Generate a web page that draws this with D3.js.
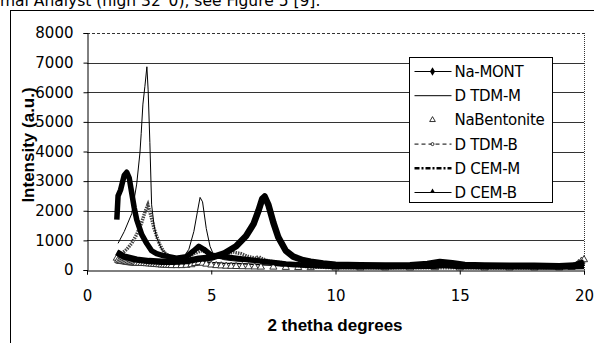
<!DOCTYPE html>
<html>
<head>
<meta charset="utf-8">
<script src="https://cdn.jsdelivr.net/npm/d3@7"></script>
<style>
body{margin:0;background:#fff;}
svg{display:block;font-family:"Liberation Sans",Arial,sans-serif;}
</style>
</head>
<body>
<svg width="594" height="343"></svg>
<script>
// values: [2 theta, intensity]
var naMont = [[1.2,600],[1.5,450],[2,350],[2.5,300],[3,280],[3.5,280],[4,300],[4.5,380],[5,420],[5.5,550],[6,800],[6.4,1150],[6.7,1550],[6.9,2000],[7.05,2400],[7.15,2480],[7.3,2200],[7.5,1600],[7.7,1100],[8,650],[8.3,450],[8.7,330],[9,280],[9.5,220],[10,180],[11,160],[12,150],[13,160],[13.7,200],[14.2,270],[14.7,230],[15.2,170],[16,150],[17,140],[18,140],[19,130],[19.6,150],[20,250]];
var dtdmM = [[1.25,900],[1.5,1300],[1.8,1900],[2.0,2900],[2.13,3950],[2.18,4600],[2.25,5600],[2.33,6200],[2.41,6860],[2.46,6080],[2.53,4300],[2.6,2200],[2.7,1500],[2.8,1100],[3.0,700],[3.3,450],[3.6,350],[3.9,450],[4.1,700],[4.3,1300],[4.45,2000],[4.55,2450],[4.65,2300],[4.8,1400],[4.95,800],[5.1,500],[5.5,350],[6,300],[7,250],[8,180],[9,150],[10,130],[12,120],[14,130],[16,110],[18,100],[20,110]];
var naBentonite = [[1.2,400],[1.25,330],[1.3,300],[1.35,295],[1.4,290],[1.45,285],[1.5,280],[1.55,275],[1.6,270],[1.65,260],[1.7,250],[1.75,248],[1.8,245],[1.85,242],[1.9,240],[1.95,235],[2.0,230],[2.1,228],[2.2,224],[2.3,220],[2.4,214],[2.5,208],[2.6,200],[2.7,192],[2.8,185],[2.9,178],[3.0,170],[3.1,165],[3.2,160],[3.3,155],[3.4,150],[3.6,150],[3.8,150],[4.0,160],[4.2,180],[4.35,220],[4.5,250],[4.65,230],[4.8,200],[5.0,170],[5.2,150],[5.4,140],[5.6,130],[5.8,125],[6,120],[6.25,115],[6.5,110],[6.75,105],[7,100],[7.5,100],[8,90],[8.5,85],[9,80],[10,70],[11,70],[12,70],[13,70],[14,80],[15,70],[16,70],[17,70],[18,70],[19,70],[19.5,90],[19.7,150],[19.8,200],[19.9,300],[20,350]];
var dtdmB = [[1.2,600],[1.4,550],[1.6,700],[1.8,900],[2.0,1200],[2.2,1600],[2.35,2000],[2.45,2200],[2.55,1900],[2.7,1400],[2.9,900],[3.1,600],[3.4,400],[3.7,350],[4.0,400],[4.3,550],[4.6,650],[4.8,600],[5.0,450],[5.3,450],[5.6,550],[5.9,600],[6.2,550],[6.5,450],[6.8,400],[6.9,450],[7.0,400],[7.3,300],[7.8,250],[8.5,150],[9,100],[10,80],[12,70],[14,80],[16,70],[18,70],[19.6,100],[19.8,300],[20,250]];
var dcemM = [[1.2,1700],[1.25,2500],[1.35,2700],[1.5,3200],[1.6,3300],[1.7,3100],[1.8,2600],[1.9,2100],[2.0,1700],[2.2,1200],[2.4,900],[2.6,650],[2.8,550],[3.0,500],[3.3,450],[3.6,400],[4.0,450],[4.3,650],[4.5,800],[4.7,700],[5.0,500],[5.5,450],[6.0,400],[6.5,350],[7,300],[7.5,250],[8,200],[9,150],[10,120],[12,110],[14,130],[14.3,160],[15,120],[17,110],[19,100],[20,120]];
var dcemB = [[1.2,350],[1.5,280],[2,250],[2.5,230],[3,200],[3.5,180],[4,220],[4.5,300],[5,250],[5.5,230],[6,220],[6.5,200],[7,180],[7.5,160],[8,130],[9,100],[10,90],[12,80],[14,90],[16,80],[18,80],[20,100]];

var legendNames = ["Na-MONT","D TDM-M","NaBentonite","D TDM-B","D CEM-M","D CEM-B"];
var xTicks = [0,5,10,15,20];
var yTicks = [0,1000,2000,3000,4000,5000,6000,7000,8000];

var svg = d3.select("svg");
var pLeft = 87, pRight = 584, pTop = 33, pBottom = 270;

var x = d3.scaleLinear().domain([0,20]).range([pLeft,pRight]);
var y = d3.scaleLinear().domain([0,8000]).range([pBottom,pTop]);

// caption text of the page, cut at the top
svg.append("text")
	.attr("x", 0).attr("y", 6)
	.style("font-family", "'DejaVu Sans',sans-serif")
	.style("font-size", "15.5px")
	.text("mal Analyst (high 32°0), see Figure 5 [9].");

// chart frame
svg.append("line").attr("x1",10).attr("x2",594).attr("y1",10.5).attr("y2",10.5).style("stroke","#000");
svg.append("line").attr("x1",10.5).attr("x2",10.5).attr("y1",10).attr("y2",343).style("stroke","#000");

// grid
svg.selectAll(".grid")
	.data(yTicks.filter(d => d>0 && d<8000))
	.enter().append("line")
	.attr("class","grid")
	.attr("x1", pLeft).attr("x2", pRight)
	.attr("y1", d => Math.round(y(d))+0.5).attr("y2", d => Math.round(y(d))+0.5)
	.style("stroke","#333").style("stroke-width",1.2);
svg.append("line")
	.attr("x1", pLeft).attr("x2", pRight)
	.attr("y1", pTop+0.5).attr("y2", pTop+0.5)
	.style("stroke","#333").style("stroke-dasharray","3,2");
svg.append("line")
	.attr("x1", pRight+0.5).attr("x2", pRight+0.5)
	.attr("y1", pTop).attr("y2", pBottom)
	.style("stroke","#333").style("stroke-dasharray","1,1");

// axes
var xAxis = d3.axisBottom(x).tickValues(xTicks).tickSize(4).tickPadding(16);
var yAxis = d3.axisLeft(y).tickValues(yTicks).tickFormat(d3.format("d")).tickSize(4).tickPadding(10);
var gx = svg.append("g").attr("transform","translate(0,"+(pBottom+0.5)+")").call(xAxis);
var gy = svg.append("g").attr("transform","translate("+(pLeft+0.5)+",0)").call(yAxis);
[gx,gy].forEach(function(g){
	g.select(".domain").style("stroke","#000");
	g.selectAll(".tick line").style("stroke","#000");
	g.selectAll("text").style("fill","#000")
		.style("font-family","'DejaVu Sans',sans-serif").style("font-size","15px");
});

// series
var line = d3.line().x(d => x(d[0])).y(d => y(d[1]));
var plot = svg.append("g");

plot.append("path").datum(dcemB).attr("d",line)
	.style("fill","none").style("stroke","#000").style("stroke-width",1.5);
plot.selectAll(".tri").data(naBentonite).enter().append("path")
	.attr("transform", d => "translate("+x(d[0])+","+y(d[1])+")")
	.attr("d", d3.symbol(d3.symbolTriangle, 22))
	.style("fill","#fff").style("stroke","#333").style("stroke-width",1);
plot.append("path").datum(dtdmB).attr("d",line)
	.style("fill","none").style("stroke","#444").style("stroke-width",3.5)
	.style("stroke-dasharray","1.5,1");
plot.append("path").datum(dtdmM).attr("d",line)
	.style("fill","none").style("stroke","#000").style("stroke-width",1);
plot.append("path").datum(dcemM).attr("d",line)
	.style("fill","none").style("stroke","#000").style("stroke-width",5.5)
	.style("stroke-linejoin","round");
plot.append("path").datum(naMont).attr("d",line)
	.style("fill","none").style("stroke","#000").style("stroke-width",6.5)
	.style("stroke-linejoin","round");

// axis titles
svg.append("text")
	.attr("transform","translate(34,145) rotate(-90)")
	.attr("text-anchor","middle")
	.style("font-weight","bold").style("font-size","17px")
	.text("Intensity (a.u.)");
svg.append("text")
	.attr("x", 335).attr("y", 331)
	.attr("text-anchor","middle")
	.style("font-weight","bold").style("font-size","17px")
	.text("2 thetha degrees");

// legend
var lg = svg.append("g").attr("transform","translate(409.5,57.5)");
lg.append("rect").attr("width",143).attr("height",145)
	.style("fill","#fff").style("stroke","#000");
var items = lg.selectAll(".item").data(legendNames).enter().append("g")
	.attr("transform", (d,i) => "translate(0,"+(14+i*24.2)+")");
items.append("text").attr("x",45).attr("y",5.5)
	.style("font-family","'DejaVu Sans',sans-serif").style("font-size","15px")
	.style("letter-spacing","-0.3px")
	.text(d => d);
var styles = [
	{w:1, dash:null},
	{w:1, dash:null},
	null,
	{w:1, dash:"4,3"},
	{w:2.5, dash:"5,2,2,2"},
	{w:1, dash:null}
];
items.each(function(d,i){
	var g = d3.select(this);
	if(styles[i]){
		g.append("line").attr("x1",5).attr("x2",42).attr("y1",0).attr("y2",0)
			.style("stroke","#000").style("stroke-width",styles[i].w)
			.style("stroke-dasharray",styles[i].dash);
	}
	if(i==0){
		g.append("path").attr("transform","translate(23,0)").attr("d",d3.symbol(d3.symbolDiamond,22)).style("fill","#000");
	} else if(i==2){
		g.append("path").attr("transform","translate(23,0)").attr("d",d3.symbol(d3.symbolTriangle,14)).style("fill","#fff").style("stroke","#000").style("stroke-width",0.8);
	} else if(i==3){
		g.append("circle").attr("cx",23).attr("cy",0).attr("r",1.5).style("fill","#fff").style("stroke","#000").style("stroke-width",0.8);
	} else if(i==5){
		g.append("path").attr("transform","translate(23,-1)").attr("d",d3.symbol(d3.symbolTriangle,12)).style("fill","#000");
	}
});
</script>
</body>
</html>
